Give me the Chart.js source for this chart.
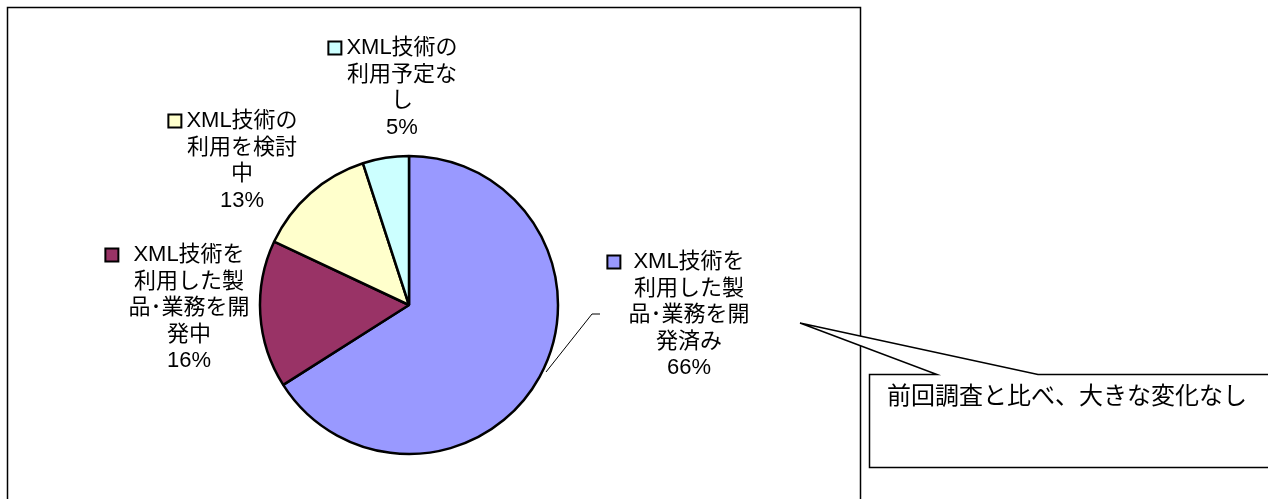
<!DOCTYPE html>
<html lang="ja">
<head>
<meta charset="utf-8">
<title>XML技術の利用状況</title>
<script src="https://cdn.jsdelivr.net/npm/chart.js@4/dist/chart.umd.min.js"></script>
<style>
  html, body { margin: 0; padding: 0; background: #fff; }
  canvas { display: block; }
</style>
</head>
<body>
<canvas id="chart" width="1268" height="499"></canvas>
<script>
// Category names, already broken into the lines shown next to each slice
const categories = [
  ["XML技術を", "利用した製", "品･業務を開", "発済み"],
  ["XML技術を", "利用した製", "品･業務を開", "発中"],
  ["XML技術の", "利用を検討", "中"],
  ["XML技術の", "利用予定な", "し"]
];
// Share of respondents (%)
const shares = [66, 16, 13, 5];
const sliceColors = ["#9999FF", "#993366", "#FFFFCC", "#CCFFFF"];
const calloutText = "前回調査と比べ、大きな変化なし";

const FONT_FAMILY = '"Liberation Sans", "Noto Sans CJK JP", sans-serif';

// Where each data label block sits (centre x, first line y) and the gap before its key box
const labelLayout = [
  { x: 689, y: 262, keyGap: 13 },
  { x: 189, y: 255, keyGap: 15 },
  { x: 242, y: 121, keyGap: 5 },
  { x: 402, y: 48, keyGap: 5 }
];
const LINE_STEP = 26.5;

const total = shares.reduce((a, b) => a + b, 0);
const pctText = shares.map(v => Math.round(v / total * 100) + "%");

const decorations = {
  id: "decorations",
  beforeDraw(chart) {
    const ctx = chart.ctx;
    ctx.save();
    ctx.fillStyle = "#fff";
    ctx.fillRect(0, 0, chart.width, chart.height);
    // chart frame
    ctx.strokeStyle = "#000";
    ctx.lineWidth = 1.5;
    ctx.strokeRect(7.5, 7.5, 853, 600);
    ctx.restore();
  },
  afterDraw(chart) {
    const ctx = chart.ctx;
    ctx.save();
    ctx.fillStyle = "#000";
    ctx.textAlign = "center";
    ctx.textBaseline = "middle";
    ctx.font = "22px " + FONT_FAMILY;

    categories.forEach((lines, i) => {
      const lay = labelLayout[i];
      const all = lines.concat([pctText[i]]);
      all.forEach((t, k) => {
        ctx.fillText(t, lay.x, lay.y + k * LINE_STEP);
      });
      // legend key in front of the first line
      const w = ctx.measureText(lines[0]).width;
      const left = lay.x - w / 2;
      const size = 13;
      const bx = left - lay.keyGap - size;
      const by = lay.y - size / 2;
      ctx.fillStyle = sliceColors[i];
      ctx.fillRect(bx, by, size, size);
      ctx.strokeStyle = "#000";
      ctx.lineWidth = 2;
      ctx.strokeRect(bx, by, size, size);
      ctx.fillStyle = "#000";
    });

    // leader line from the largest slice to its label
    ctx.strokeStyle = "#000";
    ctx.lineWidth = 1;
    ctx.beginPath();
    ctx.moveTo(546, 372);
    ctx.lineTo(592, 314);
    ctx.lineTo(600, 314);
    ctx.stroke();

    // speech-bubble callout
    ctx.beginPath();
    ctx.moveTo(869.5, 374.5);
    ctx.lineTo(937, 374.5);
    ctx.lineTo(800, 323);
    ctx.lineTo(1038, 374.5);
    ctx.lineTo(1300, 374.5);
    ctx.lineTo(1300, 467.5);
    ctx.lineTo(869.5, 467.5);
    ctx.closePath();
    ctx.fillStyle = "#fff";
    ctx.fill();
    ctx.lineWidth = 1.5;
    ctx.strokeStyle = "#000";
    ctx.stroke();

    ctx.fillStyle = "#000";
    ctx.textAlign = "left";
    ctx.font = "24px " + FONT_FAMILY;
    ctx.fillText(calloutText, 887, 397);
    ctx.restore();
  }
};

new Chart(document.getElementById("chart"), {
  type: "pie",
  data: {
    labels: categories.map(l => l.join("")),
    datasets: [{
      data: shares,
      backgroundColor: sliceColors,
      borderColor: "#000",
      borderWidth: 2.5,
      radius: 149
    }]
  },
  options: {
    responsive: false,
    animation: false,
    devicePixelRatio: 1,
    layout: { padding: { left: 0, right: 450, top: 111, bottom: 0 } },
    plugins: {
      legend: { display: false },
      tooltip: { enabled: false }
    }
  },
  plugins: [decorations]
});
</script>
</body>
</html>
